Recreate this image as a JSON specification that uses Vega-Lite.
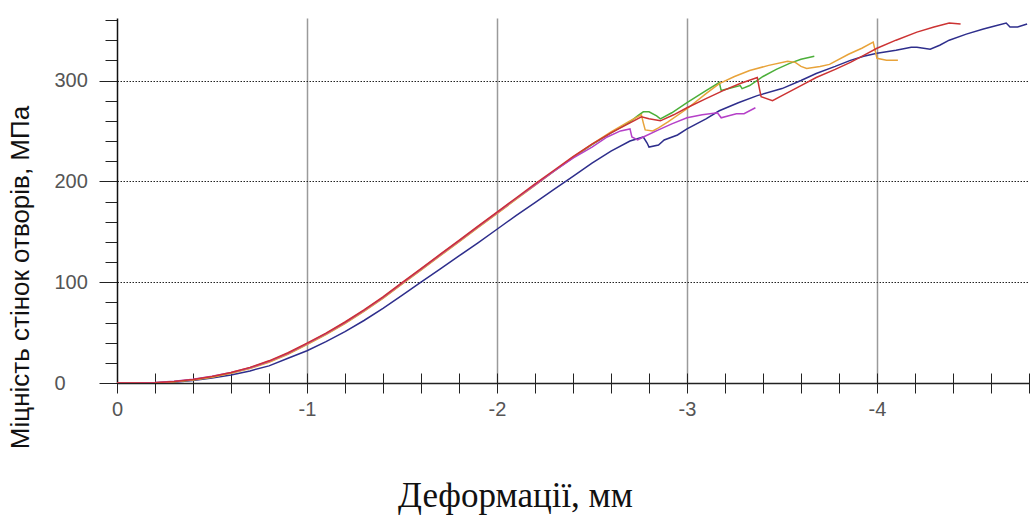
{
  "$schema": "https://vega.github.io/schema/vega-lite/v6.json",
  "width": 912,
  "height": 365,
  "autosize": "none",
  "padding": {"left": 117, "top": 18, "right": 1, "bottom": 142},
  "background": "white",
  "config": {"view": {"stroke": null}},
  "data": {"values": [
    {"s":"blue","d":0,"v":0},{"s":"blue","d":-0.1,"v":0},{"s":"blue","d":-0.2,"v":0},{"s":"blue","d":-0.3,"v":0.8},{"s":"blue","d":-0.4,"v":2.5},{"s":"blue","d":-0.5,"v":5},{"s":"blue","d":-0.6,"v":8},{"s":"blue","d":-0.7,"v":12},{"s":"blue","d":-0.8,"v":17},{"s":"blue","d":-0.9,"v":24.5},{"s":"blue","d":-1,"v":32},{"s":"blue","d":-1.1,"v":41},{"s":"blue","d":-1.2,"v":51},{"s":"blue","d":-1.3,"v":62},{"s":"blue","d":-1.4,"v":74},{"s":"blue","d":-1.5,"v":87},{"s":"blue","d":-1.6,"v":100},{"s":"blue","d":-1.7,"v":113},{"s":"blue","d":-1.8,"v":126},{"s":"blue","d":-1.9,"v":139},{"s":"blue","d":-2,"v":152.5},{"s":"blue","d":-2.1,"v":166},{"s":"blue","d":-2.2,"v":179},{"s":"blue","d":-2.3,"v":192},{"s":"blue","d":-2.4,"v":205},{"s":"blue","d":-2.5,"v":218},{"s":"blue","d":-2.6,"v":230},{"s":"blue","d":-2.7,"v":240},{"s":"blue","d":-2.77,"v":244},{"s":"blue","d":-2.79,"v":238},{"s":"blue","d":-2.8,"v":234},{"s":"blue","d":-2.85,"v":236},{"s":"blue","d":-2.88,"v":241},{"s":"blue","d":-2.95,"v":246},{"s":"blue","d":-3,"v":252},{"s":"blue","d":-3.1,"v":262},{"s":"blue","d":-3.17,"v":270},{"s":"blue","d":-3.27,"v":278},{"s":"blue","d":-3.37,"v":285},{"s":"blue","d":-3.5,"v":292},{"s":"blue","d":-3.6,"v":300},{"s":"blue","d":-3.68,"v":307},{"s":"blue","d":-3.78,"v":314},{"s":"blue","d":-3.86,"v":320},{"s":"blue","d":-3.93,"v":324},{"s":"blue","d":-4,"v":327},{"s":"blue","d":-4.1,"v":330},{"s":"blue","d":-4.18,"v":333},{"s":"blue","d":-4.21,"v":333},{"s":"blue","d":-4.28,"v":331},{"s":"blue","d":-4.33,"v":335},{"s":"blue","d":-4.38,"v":340},{"s":"blue","d":-4.47,"v":346},{"s":"blue","d":-4.56,"v":351},{"s":"blue","d":-4.62,"v":354},{"s":"blue","d":-4.68,"v":357},{"s":"blue","d":-4.7,"v":353},{"s":"blue","d":-4.74,"v":353},{"s":"blue","d":-4.79,"v":356},

    {"s":"green","d":0,"v":0},{"s":"green","d":-0.1,"v":0},{"s":"green","d":-0.2,"v":0.3},{"s":"green","d":-0.3,"v":1.3},{"s":"green","d":-0.4,"v":3.2},{"s":"green","d":-0.5,"v":6},{"s":"green","d":-0.6,"v":9.8},{"s":"green","d":-0.7,"v":14.8},{"s":"green","d":-0.8,"v":21},{"s":"green","d":-0.9,"v":29},{"s":"green","d":-1,"v":38.5},{"s":"green","d":-1.1,"v":48.5},{"s":"green","d":-1.2,"v":59.5},{"s":"green","d":-1.3,"v":71.5},{"s":"green","d":-1.4,"v":84.5},{"s":"green","d":-1.5,"v":98.5},{"s":"green","d":-1.6,"v":112.5},{"s":"green","d":-1.7,"v":126.5},{"s":"green","d":-1.8,"v":140.5},{"s":"green","d":-1.9,"v":154.5},{"s":"green","d":-2,"v":168.5},{"s":"green","d":-2.1,"v":182.5},{"s":"green","d":-2.2,"v":196.5},{"s":"green","d":-2.3,"v":210},{"s":"green","d":-2.4,"v":223.5},{"s":"green","d":-2.5,"v":236.5},{"s":"green","d":-2.6,"v":248},{"s":"green","d":-2.7,"v":259},{"s":"green","d":-2.74,"v":265},{"s":"green","d":-2.77,"v":269},{"s":"green","d":-2.8,"v":269},{"s":"green","d":-2.84,"v":265},{"s":"green","d":-2.86,"v":262},{"s":"green","d":-2.92,"v":268},{"s":"green","d":-3,"v":278},{"s":"green","d":-3.1,"v":290},{"s":"green","d":-3.17,"v":298},{"s":"green","d":-3.18,"v":290},{"s":"green","d":-3.22,"v":292},{"s":"green","d":-3.28,"v":295},{"s":"green","d":-3.29,"v":292},{"s":"green","d":-3.33,"v":295},{"s":"green","d":-3.4,"v":304},{"s":"green","d":-3.47,"v":311},{"s":"green","d":-3.54,"v":317},{"s":"green","d":-3.6,"v":321},{"s":"green","d":-3.67,"v":324},

    {"s":"orange","d":0,"v":0},{"s":"orange","d":-0.1,"v":0},{"s":"orange","d":-0.2,"v":0.2},{"s":"orange","d":-0.3,"v":1.2},{"s":"orange","d":-0.4,"v":3},{"s":"orange","d":-0.5,"v":5.8},{"s":"orange","d":-0.6,"v":9.6},{"s":"orange","d":-0.7,"v":14.4},{"s":"orange","d":-0.8,"v":20.5},{"s":"orange","d":-0.9,"v":28.5},{"s":"orange","d":-1,"v":38},{"s":"orange","d":-1.1,"v":48},{"s":"orange","d":-1.2,"v":59},{"s":"orange","d":-1.3,"v":71},{"s":"orange","d":-1.4,"v":84},{"s":"orange","d":-1.5,"v":98},{"s":"orange","d":-1.6,"v":112},{"s":"orange","d":-1.7,"v":126},{"s":"orange","d":-1.8,"v":140},{"s":"orange","d":-1.9,"v":154},{"s":"orange","d":-2,"v":168},{"s":"orange","d":-2.1,"v":182},{"s":"orange","d":-2.2,"v":196},{"s":"orange","d":-2.3,"v":210},{"s":"orange","d":-2.4,"v":224},{"s":"orange","d":-2.5,"v":237},{"s":"orange","d":-2.6,"v":249},{"s":"orange","d":-2.7,"v":260},{"s":"orange","d":-2.76,"v":266},{"s":"orange","d":-2.77,"v":258},{"s":"orange","d":-2.78,"v":251},{"s":"orange","d":-2.82,"v":250},{"s":"orange","d":-2.85,"v":253},{"s":"orange","d":-2.9,"v":259},{"s":"orange","d":-3,"v":272},{"s":"orange","d":-3.1,"v":287},{"s":"orange","d":-3.17,"v":297},{"s":"orange","d":-3.25,"v":304},{"s":"orange","d":-3.33,"v":310},{"s":"orange","d":-3.43,"v":315},{"s":"orange","d":-3.53,"v":319},{"s":"orange","d":-3.57,"v":318},{"s":"orange","d":-3.6,"v":314},{"s":"orange","d":-3.63,"v":312},{"s":"orange","d":-3.7,"v":314},{"s":"orange","d":-3.75,"v":316},{"s":"orange","d":-3.85,"v":326},{"s":"orange","d":-3.92,"v":332},{"s":"orange","d":-3.98,"v":338},{"s":"orange","d":-3.99,"v":330},{"s":"orange","d":-4,"v":322},{"s":"orange","d":-4.05,"v":320},{"s":"orange","d":-4.11,"v":320},

    {"s":"magenta","d":0,"v":0},{"s":"magenta","d":-0.1,"v":0},{"s":"magenta","d":-0.2,"v":0.4},{"s":"magenta","d":-0.3,"v":1.7},{"s":"magenta","d":-0.4,"v":3.7},{"s":"magenta","d":-0.5,"v":6.6},{"s":"magenta","d":-0.6,"v":10.4},{"s":"magenta","d":-0.7,"v":15.2},{"s":"magenta","d":-0.8,"v":21.5},{"s":"magenta","d":-0.9,"v":29.5},{"s":"magenta","d":-1,"v":39},{"s":"magenta","d":-1.1,"v":49},{"s":"magenta","d":-1.2,"v":60},{"s":"magenta","d":-1.3,"v":72},{"s":"magenta","d":-1.4,"v":85},{"s":"magenta","d":-1.5,"v":99},{"s":"magenta","d":-1.6,"v":113},{"s":"magenta","d":-1.7,"v":127},{"s":"magenta","d":-1.8,"v":141},{"s":"magenta","d":-1.9,"v":155},{"s":"magenta","d":-2,"v":169},{"s":"magenta","d":-2.1,"v":183},{"s":"magenta","d":-2.2,"v":196.5},{"s":"magenta","d":-2.3,"v":210},{"s":"magenta","d":-2.4,"v":223},{"s":"magenta","d":-2.5,"v":234},{"s":"magenta","d":-2.58,"v":244},{"s":"magenta","d":-2.65,"v":250},{"s":"magenta","d":-2.7,"v":252},{"s":"magenta","d":-2.71,"v":244},{"s":"magenta","d":-2.74,"v":241},{"s":"magenta","d":-2.77,"v":244},{"s":"magenta","d":-2.85,"v":251},{"s":"magenta","d":-2.92,"v":257},{"s":"magenta","d":-3,"v":263},{"s":"magenta","d":-3.08,"v":266},{"s":"magenta","d":-3.16,"v":268},{"s":"magenta","d":-3.18,"v":263},{"s":"magenta","d":-3.22,"v":265},{"s":"magenta","d":-3.26,"v":267},{"s":"magenta","d":-3.3,"v":267},{"s":"magenta","d":-3.36,"v":273},

    {"s":"red","d":0,"v":0},{"s":"red","d":-0.1,"v":0},{"s":"red","d":-0.2,"v":0.3},{"s":"red","d":-0.3,"v":1.5},{"s":"red","d":-0.4,"v":3.5},{"s":"red","d":-0.5,"v":6.5},{"s":"red","d":-0.6,"v":10.5},{"s":"red","d":-0.7,"v":15.5},{"s":"red","d":-0.8,"v":22},{"s":"red","d":-0.9,"v":30},{"s":"red","d":-1,"v":39.5},{"s":"red","d":-1.1,"v":49.5},{"s":"red","d":-1.2,"v":60.5},{"s":"red","d":-1.3,"v":72.5},{"s":"red","d":-1.4,"v":85.5},{"s":"red","d":-1.5,"v":99.5},{"s":"red","d":-1.6,"v":113.5},{"s":"red","d":-1.7,"v":127.5},{"s":"red","d":-1.8,"v":141.5},{"s":"red","d":-1.9,"v":155.5},{"s":"red","d":-2,"v":169.5},{"s":"red","d":-2.1,"v":183.5},{"s":"red","d":-2.2,"v":197.5},{"s":"red","d":-2.3,"v":211},{"s":"red","d":-2.4,"v":224.5},{"s":"red","d":-2.5,"v":237},{"s":"red","d":-2.6,"v":248},{"s":"red","d":-2.7,"v":258},{"s":"red","d":-2.76,"v":264},{"s":"red","d":-2.8,"v":262},{"s":"red","d":-2.86,"v":260},{"s":"red","d":-2.93,"v":266},{"s":"red","d":-3,"v":273},{"s":"red","d":-3.1,"v":282},{"s":"red","d":-3.19,"v":290},{"s":"red","d":-3.28,"v":297},{"s":"red","d":-3.37,"v":303},{"s":"red","d":-3.38,"v":293},{"s":"red","d":-3.39,"v":284},{"s":"red","d":-3.45,"v":280},{"s":"red","d":-3.5,"v":285},{"s":"red","d":-3.6,"v":295},{"s":"red","d":-3.68,"v":303},{"s":"red","d":-3.78,"v":311},{"s":"red","d":-3.86,"v":318},{"s":"red","d":-3.93,"v":325},{"s":"red","d":-4,"v":332},{"s":"red","d":-4.1,"v":340},{"s":"red","d":-4.21,"v":348},{"s":"red","d":-4.3,"v":353},{"s":"red","d":-4.38,"v":357},{"s":"red","d":-4.44,"v":356}
  ]},
  "mark": {"type": "line", "strokeWidth": 1.5, "clip": true},
  "encoding": {
    "x": {
      "field": "d", "type": "quantitative",
      "scale": {"domain": [0, -4.8], "nice": false, "zero": false},
      "axis": {
        "orient": "bottom",
        "offset": -10,
        "values": [0,-0.2,-0.4,-0.6,-0.8,-1,-1.2,-1.4,-1.6,-1.8,-2,-2.2,-2.4,-2.6,-2.8,-3,-3.2,-3.4,-3.6,-3.8,-4,-4.2,-4.4,-4.6,-4.8],
        "domain": false,
        "ticks": true, "tickSize": 20, "tickColor": "#222", "tickWidth": 1,
        "labelExpr": "datum.value === 0 ? '0' : (datum.value % 1 === 0 ? '-' + abs(datum.value) : '')",
        "labelFont": "Liberation Sans", "labelFontSize": 20, "labelColor": "#555", "labelPadding": 6,
        "labelFlush": false, "labelOverlap": false,
        "grid": true, "gridColor": "#9a9a9a", "gridWidth": 1.5,
        "gridOpacity": {"condition": {"test": "datum.value % 1 === 0 && datum.value !== 0", "value": 1}, "value": 0},
        "title": "Деформації, мм",
        "titleFont": "Liberation Serif", "titleFontSize": 35, "titleFontWeight": "normal", "titleColor": "#111",
        "titleX": 398, "titleY": 122, "titleAlign": "center", "titleBaseline": "middle"
      }
    },
    "y": {
      "field": "v", "type": "quantitative",
      "scale": {"domain": [0, 362], "nice": false},
      "axis": {
        "values": [0,20,40,60,80,100,120,140,160,180,200,220,240,260,280,300,320,340,360],
        "domain": true, "domainColor": "#111", "domainWidth": 1.5,
        "tickSize": {"condition": {"test": "datum.value % 100 === 0", "value": 18}, "value": 12},
        "tickColor": "#222", "tickWidth": 1,
        "labelExpr": "datum.value % 100 === 0 ? datum.label : ''",
        "labelFont": "Liberation Sans", "labelFontSize": 20, "labelColor": "#555",
        "labelAlign": "left", "labelPadding": 45,
        "grid": true, "gridColor": "#222",
        "gridWidth": {"condition": {"test": "datum.value === 0", "value": 1.5}, "value": 1},
        "gridDash": {"condition": {"test": "datum.value === 0", "value": [1, 0]}, "value": [1.5, 1.5]},
        "gridOpacity": {"condition": {"test": "datum.value % 100 === 0 && datum.value < 350", "value": 1}, "value": 0},
        "title": "Міцність стінок отворів, МПа",
        "titleFont": "Liberation Sans", "titleFontSize": 26, "titleFontWeight": "normal", "titleColor": "#111",
        "titleAngle": -90, "titleX": -97, "titleY": 259, "titleAlign": "center", "titleBaseline": "middle"
      }
    },
    "color": {
      "field": "s", "type": "nominal",
      "scale": {"domain": ["blue", "green", "orange", "magenta", "red"], "range": ["#2e2e8c", "#4caf3a", "#e8a33a", "#b540c8", "#cc3333"]},
      "legend": null
    }
  }
}
